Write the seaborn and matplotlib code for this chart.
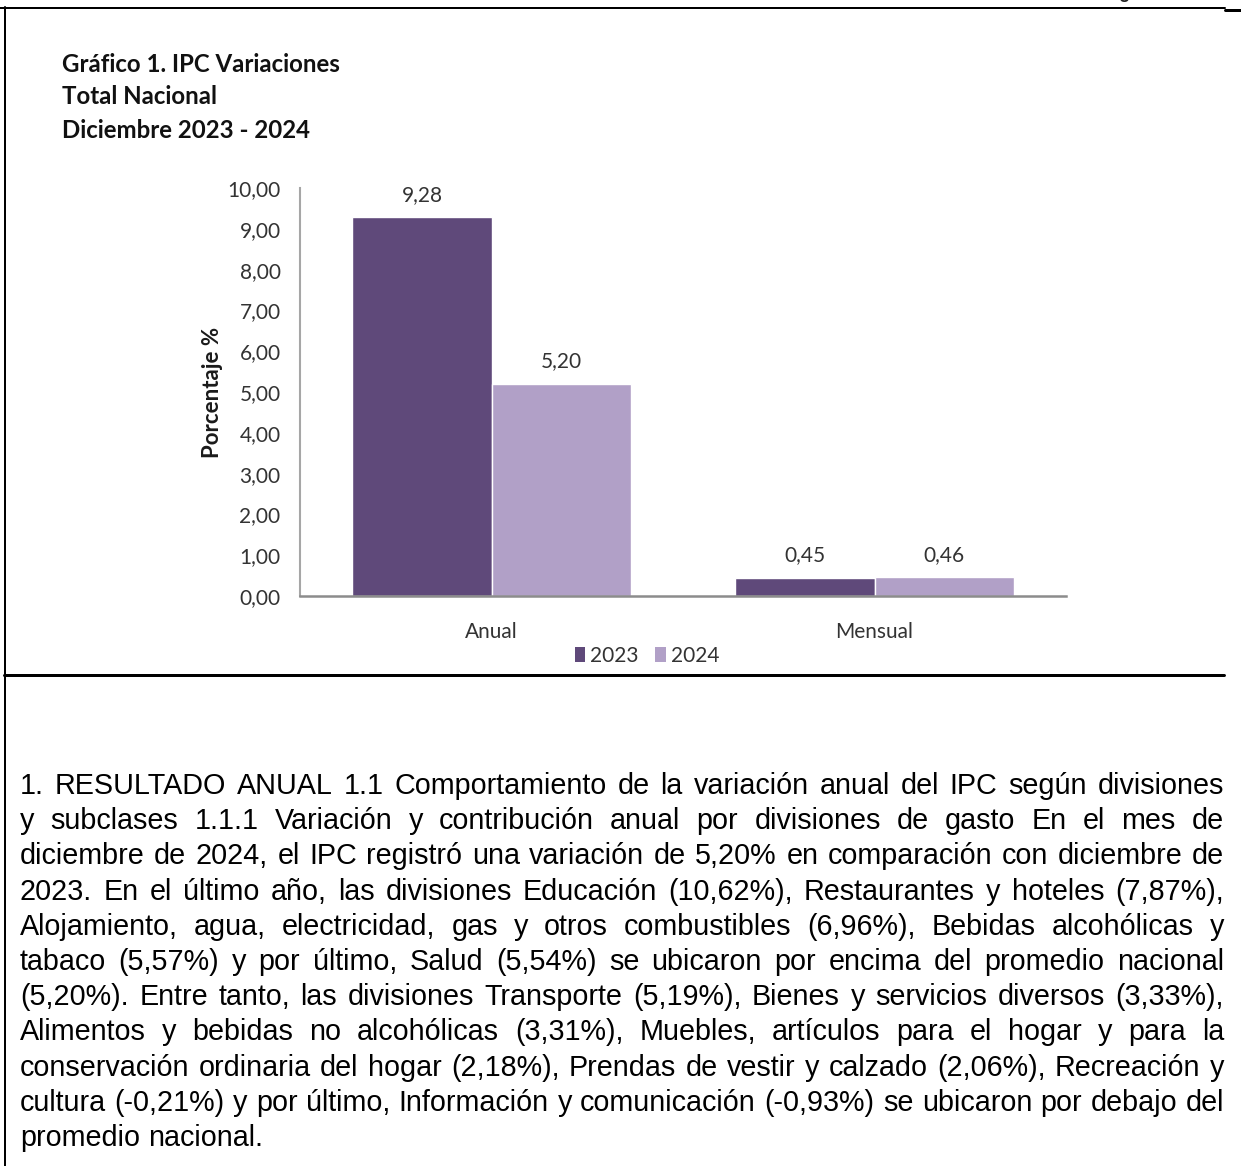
import pandas as pd
import matplotlib
matplotlib.use("Agg")
import matplotlib.pyplot as plt
import seaborn as sns
from matplotlib.lines import Line2D
from matplotlib.patches import Patch
from matplotlib.ticker import FuncFormatter

# datos del gráfico
periodos = ["Anual", "Mensual"]
anios = ["2023", "2024"]
valores_2023 = [9.28, 0.45]
valores_2024 = [5.20, 0.46]
colores = ["#5F497A", "#B1A0C7"]

titulo = ["Gráfico 1. IPC Variaciones", "Total Nacional", "Diciembre 2023 - 2024"]

parrafo = [
    "1. RESULTADO ANUAL 1.1 Comportamiento de la variación anual del IPC según divisiones",
    "y subclases 1.1.1 Variación y contribución anual por divisiones de gasto En el mes de",
    "diciembre de 2024, el IPC registró una variación de 5,20% en comparación con diciembre de",
    "2023. En el último año, las divisiones Educación (10,62%), Restaurantes y hoteles (7,87%),",
    "Alojamiento, agua, electricidad, gas y otros combustibles (6,96%), Bebidas alcohólicas y",
    "tabaco (5,57%) y por último, Salud (5,54%) se ubicaron por encima del promedio nacional",
    "(5,20%). Entre tanto, las divisiones Transporte (5,19%), Bienes y servicios diversos (3,33%),",
    "Alimentos y bebidas no alcohólicas (3,31%), Muebles, artículos para el hogar y para la",
    "conservación ordinaria del hogar (2,18%), Prendas de vestir y calzado (2,06%), Recreación y",
    "cultura (-0,21%) y por último, Información y comunicación (-0,93%) se ubicaron por debajo del",
    "promedio nacional.",
]

df = pd.DataFrame({
    "periodo": periodos * 2,
    "anio": [anios[0]] * 2 + [anios[1]] * 2,
    "valor": valores_2023 + valores_2024,
})

W, H = 1241, 1166
sns.set_theme(style="white")
plt.rcParams["font.family"] = ["Lato", "DejaVu Sans"]

fig = plt.figure(figsize=(W / 100, H / 100), dpi=100)
fig.patch.set_facecolor("white")


def fx(px):
    return px / W


def fy(py):
    return 1 - py / H


ax = fig.add_axes([fx(300), fy(596), fx(766), 408 / H])
sns.barplot(data=df, x="periodo", y="valor", hue="anio", palette=colores,
            width=0.726, gap=0, saturation=1, legend=False, ax=ax)

ax.set_ylim(0, 10)
ax.set_xlim(-0.5, 1.5)
ax.set_yticks(range(0, 11))
ax.yaxis.set_major_formatter(FuncFormatter(lambda v, p: f"{v:.2f}".replace(".", ",")))
ax.tick_params(axis="y", length=0, pad=14, labelsize=15, labelcolor="#333333")
ax.tick_params(axis="x", length=0, pad=19, labelsize=15, labelcolor="#333333")
ax.set_xlabel("")
ax.set_ylabel("Porcentaje %", fontsize=16, fontweight="bold", color="#1a1a1a")
ax.yaxis.set_label_coords(-0.100, 0.5)

for s in ["top", "right"]:
    ax.spines[s].set_visible(False)
ax.spines["left"].set_color("#A6A6A6")
ax.spines["left"].set_linewidth(1.5)
ax.spines["bottom"].set_color("#8C8C8C")
ax.spines["bottom"].set_linewidth(1.8)

for cont in ax.containers:
    ax.bar_label(cont, labels=[f"{b.get_height():.2f}".replace(".", ",") for b in cont],
                 padding=9, fontsize=15, color="#333333")

handles = [Patch(facecolor=c, edgecolor="none") for c in colores]
fig.legend(handles, anios, loc="center", bbox_to_anchor=(fx(647), fy(656)), ncol=2,
           frameon=False, fontsize=15, handlelength=0.5, handleheight=0.7,
           handletextpad=0.25, columnspacing=0.8, labelcolor="#333333")

# título del gráfico
for i, linea in enumerate(titulo):
    fig.text(fx(62), fy(64 + 33 * i), linea, fontsize=17.3, fontweight="bold",
             va="center", ha="left", color="#111111")

# encabezado cortado de la página
fig.text(fx(1098), fy(-2), "Página", fontsize=13, fontweight="bold",
         family=["Liberation Sans"], va="baseline", ha="left", color="#222222")

# marco de la página
lw2 = 2 * 72 / 100
fig.add_artist(Line2D([0, fx(1225)], [fy(8), fy(8)], color="black", lw=lw2))
fig.add_artist(Line2D([fx(1225), 1], [fy(10), fy(10)], color="black", lw=3 * 72 / 100))
fig.add_artist(Line2D([fx(4.5), fx(4.5)], [fy(7), 0], color="black", lw=lw2))
fig.add_artist(Line2D([fx(4), fx(1224)], [fy(675), fy(675)], color="black", lw=3 * 72 / 100))

# párrafo justificado
renderer = fig.canvas.get_renderer()
x0, x1 = 20, 1224
ancho = x1 - x0


def medir(txt, size):
    t = fig.text(0, 0, txt, fontsize=size, family=["Liberation Sans"])
    w = t.get_window_extent(renderer).width
    t.remove()
    return w


base = 10
ancho_max = max(medir(l, base) for l in parrafo[:-1])
tam = base * (ancho - 2) / ancho_max

y0, dy = 786, 35.2
espacio = medir("a b", tam) - medir("ab", tam)
for i, linea in enumerate(parrafo):
    palabras = linea.split(" ")
    anchos = [medir(p, tam) for p in palabras]
    if i < len(parrafo) - 1 and len(palabras) > 1:
        hueco = (ancho - sum(anchos)) / (len(palabras) - 1)
    else:
        hueco = espacio
    x = x0
    for p, w in zip(palabras, anchos):
        fig.text(fx(x), fy(y0 + dy * i), p, fontsize=tam, family=["Liberation Sans"],
                 va="center", ha="left", color="black")
        x += w + hueco

fig.savefig("out.png", dpi=100, facecolor="white")
